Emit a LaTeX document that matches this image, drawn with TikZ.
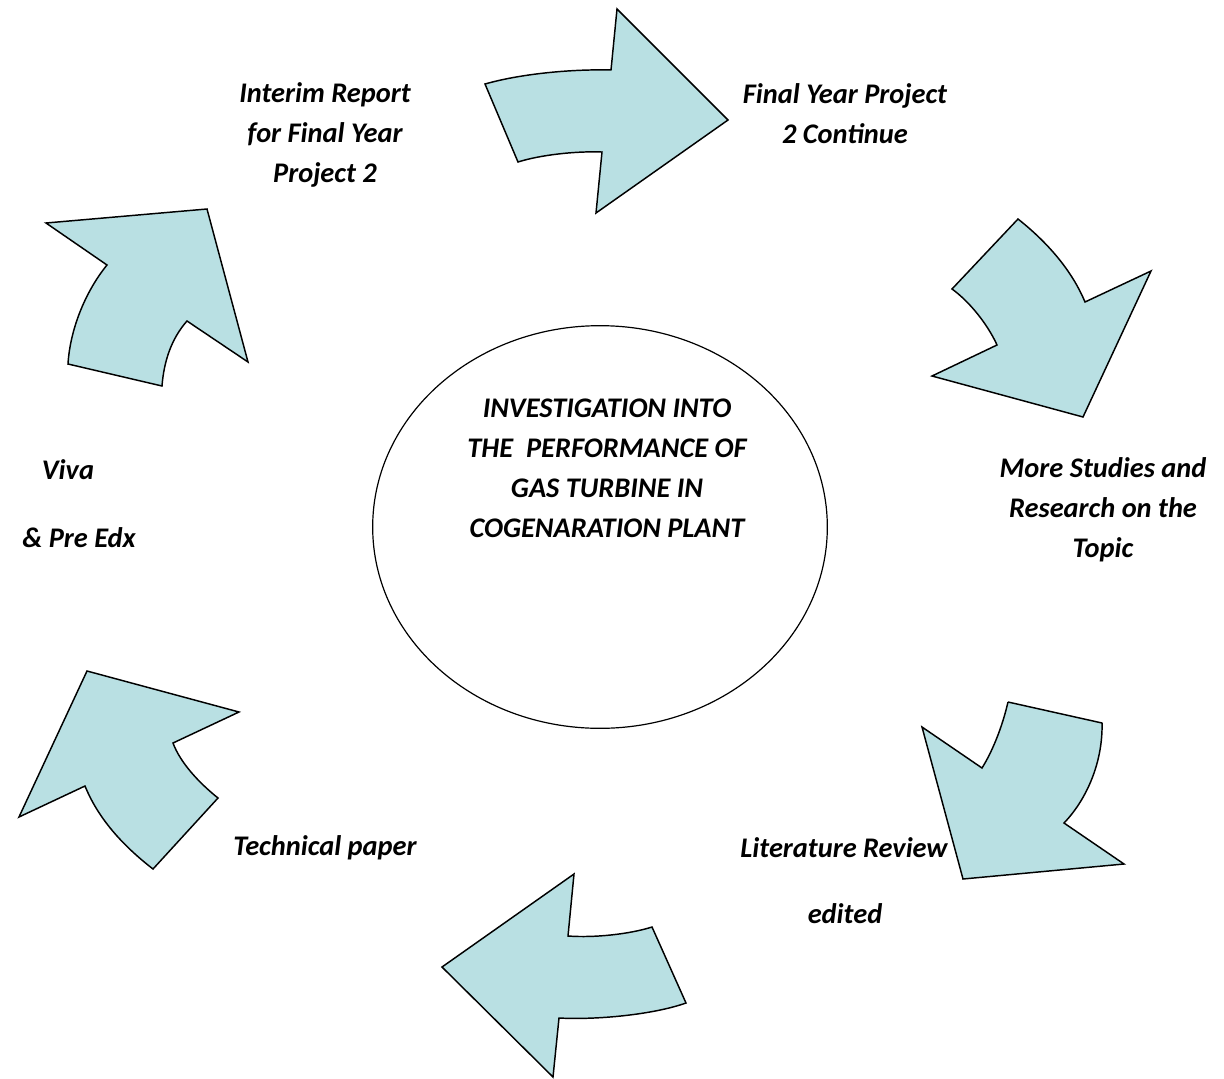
\documentclass[tikz,border=0pt]{standalone}
\usepackage{fontspec}
\setmainfont{Carlito}
\usetikzlibrary{shapes.geometric}
\definecolor{arrowfill}{RGB}{185,224,227}
\tikzset{
  blockarrow/.style={draw=black, line width=1.1pt, fill=arrowfill, line join=miter},
  label/.style={font=\fontsize{21.3}{30}\selectfont\bfseries\itshape, align=center, inner sep=0pt},
  hub/.style={draw=black, line width=0.9pt, ellipse, minimum width=341pt, minimum height=302pt, inner sep=0pt}
}
\begin{document}
\begin{tikzpicture}[x=0.75pt, y=-0.75pt]
\useasboundingbox (0,0) rectangle (1224,1078);

% central topic
\node[hub] (hub) at (600,527) {};
\node[label] (title) at (607,468) {INVESTIGATION INTO\\THE\ \ PERFORMANCE OF\\GAS TURBINE IN\\COGENARATION PLANT};

% top arrow, pointing right
\draw[blockarrow] (485,84) .. controls (520,74) and (570,69) .. (611,70)
  -- (617,9) -- (728,120) -- (596,213) -- (602,152)
  .. controls (575,151) and (540,155) .. (518,162) -- cycle;

% upper right arrow, pointing down-right
\draw[blockarrow] (1018,219) .. controls (1042,238) and (1070,266) .. (1085,302)
  -- (1151,271) -- (1083,417) -- (932,376) -- (997,345)
  .. controls (988,325) and (970,302) .. (952,289) -- cycle;

% lower right arrow, pointing down-left
\draw[blockarrow] (1008,702) -- (1102,723)
  .. controls (1103,760) and (1088,798) .. (1064,823)
  -- (1124,864) -- (963,879) -- (922,727) -- (982,768)
  .. controls (992,752) and (1002,728) .. (1008,702);

% bottom arrow, pointing left
\draw[blockarrow] (652,927) .. controls (630,934) and (595,938) .. (568,936)
  -- (574,874) -- (442,967) -- (553,1077) -- (559,1018)
  .. controls (595,1020) and (652,1015) .. (686,1003) -- cycle;

% lower left arrow, pointing up-left
\draw[blockarrow] (87,671) -- (239,712) -- (173,743)
  .. controls (180,762) and (198,782) .. (218,798)
  -- (153,869)
  .. controls (122,845) and (98,818) .. (85,786)
  -- (19,817) -- cycle;

% upper left arrow, pointing up-right
\draw[blockarrow] (46,223) -- (207,209) -- (248,362) -- (187,321)
  .. controls (172,338) and (164,360) .. (162,386)
  -- (68,364)
  .. controls (70,330) and (85,292) .. (107,265) -- cycle;

% stage labels
\node[label] (interim) at (325,135) {Interim Report\\for Final Year\\Project 2};
\node[label] (fyp) at (845,114) {Final Year Project\\2 Continue};
\node[label] (studies) at (1103,510) {More Studies and\\Research on the\\Topic};
\node[label] (litrev) at (844,848) {Literature Review};
\node[label] (edited) at (845,914) {edited};
\node[label] (tech) at (325,848) {Technical paper};
\node[label] (viva) at (68,470) {Viva};
\node[label] (preedx) at (79,538) {\& Pre Edx};
\end{tikzpicture}
\end{document}
